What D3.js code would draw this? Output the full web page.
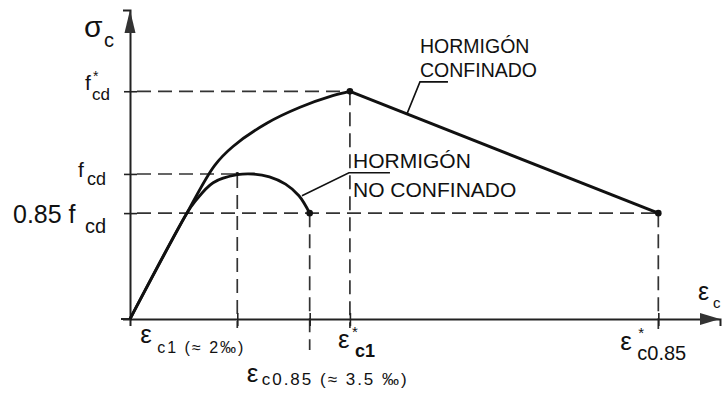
<!DOCTYPE html>
<html><head><meta charset="utf-8">
<script src="https://cdn.jsdelivr.net/npm/d3@7"></script>
<style>
body{margin:0;background:#fff}
svg{display:block}
text{font-family:"Liberation Sans",Arial,sans-serif;fill:#111}
</style>
</head><body>
<svg id="c" width="722" height="396"></svg>
<script>
// ---- data (strain in ‰, stress in units of fcd) ----
const confinedStrain     = [0, 1.06, 1.58, 1.92, 2.55, 3.17, 3.78, 4.1];
const confinedStress     = [0, 0.73, 1.06, 1.19, 1.35, 1.46, 1.54, 1.57];
const confinedFallStrain = [4.1, 9.85];
const confinedFallStress = [1.57, 0.73];
const unconfinedStrain   = [0, 1.06, 1.21, 1.55, 2.0, 2.3, 2.6, 2.9, 3.15, 3.35];
const unconfinedStress   = [0, 0.73, 0.81, 0.94, 0.995, 1.0, 0.98, 0.93, 0.85, 0.73];
const stressLevels   = [1.57, 1.0, 0.73];        // f*cd, fcd, 0.85 fcd
const stressLevelEnd = [4.1, 2.0, 9.85];         // strain where each guide ends
const strainMarks    = [2.0, 3.35, 4.1, 9.85];   // εc1, εc0.85, ε*c1, ε*c0.85
const strainMarkTop  = [1.0, 0.73, 1.57, 0.73];  // stress where each guide ends
const yTickLabels = [["f","*","cd"],["f","","cd"],["0.85 f","","cd"]];
const xTickLabels = [["ε","","c1 (≈ 2‰)"],["ε","","c0.85 (≈ 3.5 ‰)"],["ε","*","c1"],["ε","*","c0.85"]];
const axisLabels  = {y:["σ","c"], x:["ε","c"]};
const curveLabels = {confined:["HORMIGÓN","CONFINADO"], unconfined:["HORMIGÓN","NO CONFINADO"]};

const svg = d3.select("#c");
const x = d3.scaleLinear().domain([0, 11]).range([130, 720]);
const y = d3.scaleLinear().domain([0, 2.1]).range([319, 14.5]);
const zip = (a,b) => a.map((v,i)=>[v,b[i]]);

// ---- guides (dashed) ----
const dash = "14,7";
stressLevels.forEach((s,i)=>{
  svg.append("line").attr("x1",x(0)+7).attr("x2",x(stressLevelEnd[i])).attr("y1",y(s)).attr("y2",y(s))
    .attr("stroke","#333").attr("stroke-width",1.7).attr("stroke-dasharray",dash);
});
const below = [9, 31, 9, 10];
strainMarks.forEach((e,i)=>{
  svg.append("line").attr("x1",x(e)).attr("x2",x(e)).attr("y1",y(strainMarkTop[i])).attr("y2",y(0)+below[i])
    .attr("stroke","#333").attr("stroke-width",1.7).attr("stroke-dasharray",dash);
});

// ---- axes ----
const yAxis = svg.append("g").attr("transform",`translate(${x(0)},0)`)
  .call(d3.axisLeft(d3.scaleLinear().domain([0,2.13]).range([319,10])).tickValues(stressLevels).tickSizeOuter(0).tickSize(7).tickFormat(""));
yAxis.selectAll(".tick line").attr("x1",-6).attr("x2",7).attr("stroke","#222").attr("stroke-width",1.6);
yAxis.select(".domain").attr("stroke","#222").attr("stroke-width",2);
const xAxis = svg.append("g").attr("transform",`translate(0,${y(0)})`)
  .call(d3.axisBottom(x).tickValues(strainMarks).tickSizeOuter(0).tickSize(7).tickFormat(""));
xAxis.selectAll(".tick line").attr("y1",-6).attr("y2",7).attr("stroke","#222").attr("stroke-width",1.6);
xAxis.select(".domain").attr("stroke","#222").attr("stroke-width",2);
svg.append("line").attr("x1",x(0)-9).attr("x2",x(0)).attr("y1",y(0)).attr("y2",y(0)).attr("stroke","#222").attr("stroke-width",2);
// arrowheads
svg.append("path").attr("d",`M${x(0)},10 L${x(0)-5.5},33 L${x(0)+5.5},33 Z`).attr("fill","#333");
svg.append("path").attr("d",`M720,${y(0)} L700,${y(0)-6} L700,${y(0)+6} Z`).attr("fill","#333");

// ---- curves ----
const smooth = d3.line().x(d=>x(d[0])).y(d=>y(d[1])).curve(d3.curveCatmullRom.alpha(0.5));
const straight = d3.line().x(d=>x(d[0])).y(d=>y(d[1]));
svg.append("path").attr("d",smooth(zip(unconfinedStrain,unconfinedStress)))
  .attr("fill","none").attr("stroke","#111").attr("stroke-width",2.8);
svg.append("path").attr("d",smooth(zip(confinedStrain,confinedStress)))
  .attr("fill","none").attr("stroke","#111").attr("stroke-width",2.8);
svg.append("path").attr("d",straight(zip(confinedFallStrain,confinedFallStress)))
  .attr("fill","none").attr("stroke","#111").attr("stroke-width",3);

// markers
[[confinedFallStrain[0],confinedFallStress[0]],[confinedFallStrain[1],confinedFallStress[1]],
 [unconfinedStrain[unconfinedStrain.length-1],unconfinedStress[unconfinedStress.length-1]]]
 .forEach(p=>svg.append("circle").attr("cx",x(p[0])).attr("cy",y(p[1])).attr("r",3.3).attr("fill","#111"));
svg.append("circle").attr("cx",x(2.0)).attr("cy",y(1.0)).attr("r",2).attr("fill","#111");

// ---- leader lines ----
{
  const t = 0.185;
  const sx = x(confinedFallStrain[0] + t*(confinedFallStrain[1]-confinedFallStrain[0]));
  const sy = y(confinedFallStress[0] + t*(confinedFallStress[1]-confinedFallStress[0]));
  svg.append("path").attr("d",`M${sx},${sy} L${sx+13},${sy-32} L${sx+41},${sy-32}`)
    .attr("fill","none").attr("stroke","#111").attr("stroke-width",1.6);
  const ux = x(unconfinedStrain[8]), uy = y(unconfinedStress[8]);
  svg.append("path").attr("d",`M${ux+3},${uy} L${ux+50},${uy-23} L${ux+91},${uy-23}`)
    .attr("fill","none").attr("stroke","#111").attr("stroke-width",1.5);
}

// ---- text helpers ----
function txt(xp, yp, s, size, extra){
  const t = svg.append("text").attr("x",xp).attr("y",yp).attr("font-size",size).text(s);
  if(extra) Object.entries(extra).forEach(([k,v])=>t.attr(k,v));
  return t;
}

// axis titles
txt(84, 37, axisLabels.y[0], 30);
txt(104, 47, axisLabels.y[1], 20);
txt(698, 300, axisLabels.x[0], 25);
txt(713, 308, axisLabels.x[1], 15);

// y tick labels
const yPos = [
  {fx:85, fy:-1, fs:21, sx:93, sy:-10, cx:92, cy:9, cs:17},
  {fx:78, fy:3,  fs:21, sx:0,  sy:0,   cx:87, cy:11, cs:18},
  {fx:13, fy:10, fs:25, sx:0,  sy:0,   cx:85, cy:20, cs:20}
];
stressLevels.forEach((s,i)=>{
  const p = yPos[i], L = yTickLabels[i];
  txt(p.fx, y(s)+p.fy, L[0], p.fs);
  if(L[1]) txt(p.sx, y(s)+p.sy, L[1], 14);
  txt(p.cx, y(s)+p.cy, L[2], p.cs);
});

// x tick labels
const xPos = [
  {ex:-97, ey:343, sx:0,  sy:0,   cx:-80, cy:353, cs:16, ls:2},
  {ex:-63, ey:382, sx:0,  sy:0,   cx:-48, cy:385, cs:17, ls:2},
  {ex:-12, ey:348, sx:2,  sy:337, cx:5,   cy:357, cs:18, ls:0, bold:true},
  {ex:-38, ey:350, sx:-20,sy:338, cx:-21, cy:360, cs:20, ls:0}
];
strainMarks.forEach((e,i)=>{
  const p = xPos[i], L = xTickLabels[i], X = x(e);
  txt(X+p.ex, p.ey, L[0], 26);
  if(L[1]) txt(X+p.sx, p.sy, L[1], 15);
  const t = txt(X+p.cx, p.cy, L[2], p.cs, {"letter-spacing":p.ls});
  if(p.bold) t.attr("font-weight","bold");
});

// curve labels
txt(420, 53, curveLabels.confined[0], 19.5);
txt(420, 77, curveLabels.confined[1], 19.5);
txt(353, 168, curveLabels.unconfined[0], 21);
txt(353, 197, curveLabels.unconfined[1], 21);
</script>
</body></html>
